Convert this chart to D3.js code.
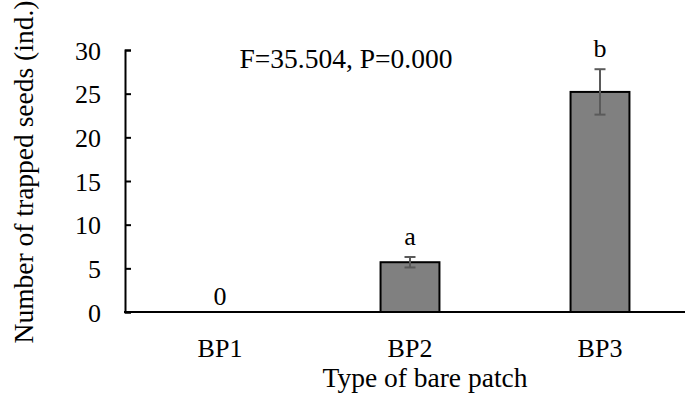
<!DOCTYPE html>
<html>
<head>
<meta charset="utf-8">
<title>Trapped seeds</title>
<script src="https://d3js.org/d3.v7.min.js"></script>
<style>
  body { margin: 0; background: #fff; }
  text { font-family: "Liberation Serif", "Times New Roman", serif; fill: #000; }
</style>
</head>
<body>
<svg id="chart"></svg>
<script>
// data
var categories = ['BP1', 'BP2', 'BP3']
var means = [0, 5.7, 25.2]
var errors = [0, 0.6, 2.6]
var letters = ['0', 'a', 'b']
var yTicks = [0, 5, 10, 15, 20, 25, 30]

var W = 685, H = 401
var svg = d3.select('#chart').attr('width', W).attr('height', H)

var x = d3.scaleBand().domain(categories).range([125, 695]).paddingInner(0.69).paddingOuter(0.345)
var y = d3.scaleLinear().domain([0, 30]).range([312, 50])
var cx = d => x(d) + x.bandwidth() / 2

// y axis, ticks pointing inwards
var yAxis = svg.append('g').attr('transform', 'translate(125,0)')
  .call(d3.axisRight(y).tickValues(yTicks).tickSize(6).tickFormat(d3.format('d')))
yAxis.select('.domain').attr('stroke', '#000').attr('stroke-width', 2)
yAxis.selectAll('.tick line').attr('stroke', '#000').attr('stroke-width', 2)
yAxis.selectAll('.tick text').attr('x', -24).attr('text-anchor', 'end')
  .style('font-size', '26px').attr('dy', '0.35em')

// x axis line
svg.append('line')
  .attr('x1', 124).attr('x2', W).attr('y1', y(0)).attr('y2', y(0))
  .attr('stroke', '#000').attr('stroke-width', 2)

svg.selectAll('.xlab').data(categories).enter().append('text')
  .attr('class', 'xlab')
  .attr('x', cx)
  .attr('y', 357)
  .attr('text-anchor', 'middle')
  .style('font-size', '26px')
  .text(d => d)

// bars
svg.selectAll('.bar').data(means).enter().append('rect')
  .attr('class', 'bar')
  .attr('x', (d, i) => x(categories[i]))
  .attr('y', d => y(d))
  .attr('width', x.bandwidth())
  .attr('height', d => y(0) - y(d))
  .attr('fill', '#808080')
  .attr('stroke', '#000')
  .attr('stroke-width', 2)
  .style('display', d => d > 0 ? null : 'none')

// error bars
var eb = svg.selectAll('.err').data(means).enter().append('g')
  .attr('class', 'err')
  .style('display', (d, i) => errors[i] > 0 ? null : 'none')
eb.append('line')
  .attr('x1', (d, i) => cx(categories[i]))
  .attr('x2', (d, i) => cx(categories[i]))
  .attr('y1', (d, i) => y(d + errors[i]))
  .attr('y2', (d, i) => y(d - errors[i]))
  .attr('stroke', '#5a5a5a').attr('stroke-width', 2)
eb.selectAll('.cap').data((d, i) => [[i, d + errors[i]], [i, d - errors[i]]]).enter().append('line')
  .attr('x1', d => cx(categories[d[0]]) - 5.5)
  .attr('x2', d => cx(categories[d[0]]) + 5.5)
  .attr('y1', d => y(d[1]))
  .attr('y2', d => y(d[1]))
  .attr('stroke', '#5a5a5a').attr('stroke-width', 2)

// significance letters
svg.selectAll('.letter').data(letters).enter().append('text')
  .attr('class', 'letter')
  .attr('x', (d, i) => cx(categories[i]))
  .attr('y', (d, i) => y(means[i] + errors[i]) - (errors[i] > 0 ? 12 : 7))
  .attr('text-anchor', 'middle')
  .style('font-size', '26px')
  .text(d => d)

// annotation
svg.append('text')
  .attr('x', 346).attr('y', 68)
  .attr('text-anchor', 'middle')
  .style('font-size', '27.5px')
  .text('F=35.504, P=0.000')

// axis titles
svg.append('text')
  .attr('transform', 'translate(33,172) rotate(-90)')
  .attr('text-anchor', 'middle')
  .style('font-size', '27.5px')
  .text('Number of trapped seeds (ind.)')

svg.append('text')
  .attr('x', 425).attr('y', 387)
  .attr('text-anchor', 'middle')
  .style('font-size', '27.5px')
  .text('Type of bare patch')
</script>
</body>
</html>
